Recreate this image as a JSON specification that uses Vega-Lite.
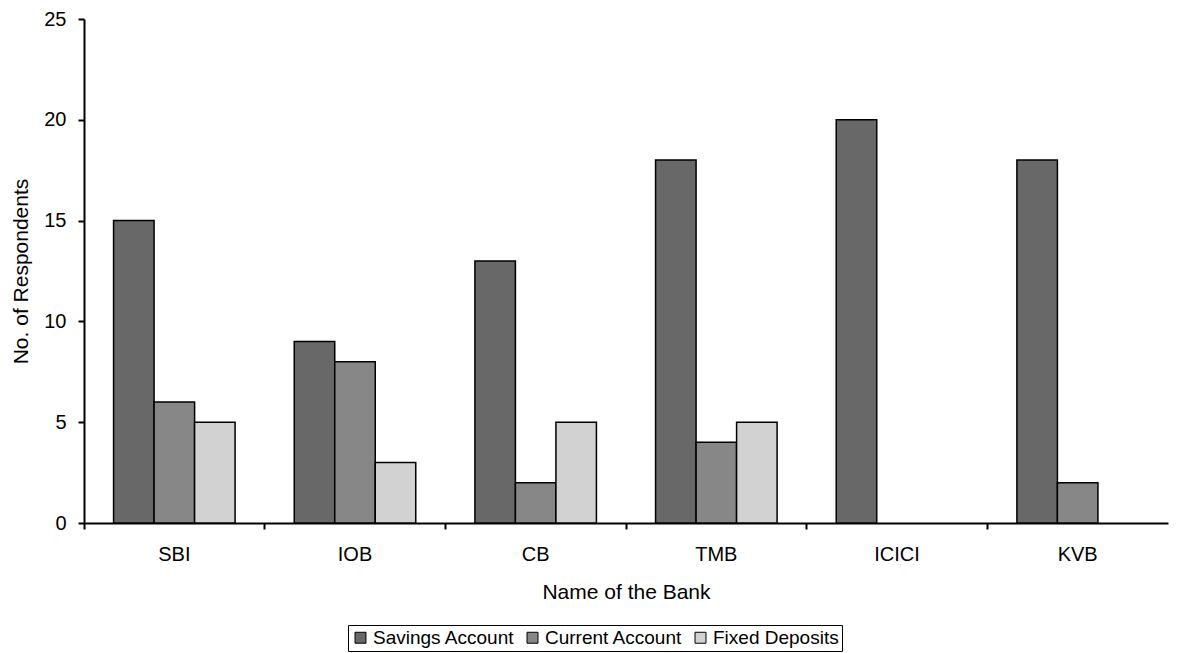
{
  "$schema": "https://vega.github.io/schema/vega-lite/v6.json",
  "width": 1084,
  "height": 504,
  "autosize": "none",
  "padding": {"left": 84, "top": 19, "right": 10, "bottom": 130},
  "background": "white",
  "config": {
    "view": {"stroke": null},
    "font": "Liberation Sans",
    "axis": {
      "labelFont": "Liberation Sans",
      "titleFont": "Liberation Sans",
      "labelFontSize": 20,
      "titleFontSize": 21,
      "titleFontWeight": "normal",
      "labelColor": "black",
      "titleColor": "black",
      "domainColor": "black",
      "domainWidth": 2,
      "tickColor": "black",
      "tickWidth": 2,
      "tickSize": 6,
      "grid": false
    },
    "legend": {
      "labelFont": "Liberation Sans",
      "labelFontSize": 19,
      "labelColor": "black"
    }
  },
  "data": {
    "values": [
      {"bank": "SBI", "type": "Savings Account", "count": 15},
      {"bank": "SBI", "type": "Current Account", "count": 6},
      {"bank": "SBI", "type": "Fixed Deposits", "count": 5},
      {"bank": "IOB", "type": "Savings Account", "count": 9},
      {"bank": "IOB", "type": "Current Account", "count": 8},
      {"bank": "IOB", "type": "Fixed Deposits", "count": 3},
      {"bank": "CB", "type": "Savings Account", "count": 13},
      {"bank": "CB", "type": "Current Account", "count": 2},
      {"bank": "CB", "type": "Fixed Deposits", "count": 5},
      {"bank": "TMB", "type": "Savings Account", "count": 18},
      {"bank": "TMB", "type": "Current Account", "count": 4},
      {"bank": "TMB", "type": "Fixed Deposits", "count": 5},
      {"bank": "ICICI", "type": "Savings Account", "count": 20},
      {"bank": "KVB", "type": "Savings Account", "count": 18},
      {"bank": "KVB", "type": "Current Account", "count": 2}
    ]
  },
  "mark": {"type": "bar", "stroke": "black", "strokeWidth": 1.5},
  "encoding": {
    "x": {
      "field": "bank",
      "type": "nominal",
      "sort": ["SBI", "IOB", "CB", "TMB", "ICICI", "KVB"],
      "scale": {"paddingInner": 0, "paddingOuter": 0},
      "axis": {
        "title": "Name of the Bank",
        "labelAngle": 0,
        "bandPosition": 0,
        "labelPadding": 15,
        "titlePadding": 17
      }
    },
    "xOffset": {
      "field": "type",
      "type": "nominal",
      "sort": ["Savings Account", "Current Account", "Fixed Deposits"],
      "scale": {"paddingInner": 0, "paddingOuter": 0.73}
    },
    "y": {
      "field": "count",
      "type": "quantitative",
      "scale": {"domain": [0, 25], "nice": false},
      "axis": {
        "title": "No. of Respondents",
        "values": [0, 5, 10, 15, 20, 25],
        "labelPadding": 12,
        "titlePadding": 12
      }
    },
    "fill": {
      "field": "type",
      "type": "nominal",
      "sort": ["Savings Account", "Current Account", "Fixed Deposits"],
      "scale": {
        "domain": ["Savings Account", "Current Account", "Fixed Deposits"],
        "range": ["#686868", "#878787", "#d2d2d2"]
      },
      "legend": {
        "title": null,
        "orient": "none",
        "legendX": 264,
        "legendY": 606,
        "direction": "horizontal",
        "columns": 3,
        "symbolType": "square",
        "symbolSize": 120,
        "symbolStrokeColor": "black",
        "symbolStrokeWidth": 1,
        "labelOffset": 3,
        "columnPadding": 8,
        "padding": 3,
        "strokeColor": "black"
      }
    }
  }
}
